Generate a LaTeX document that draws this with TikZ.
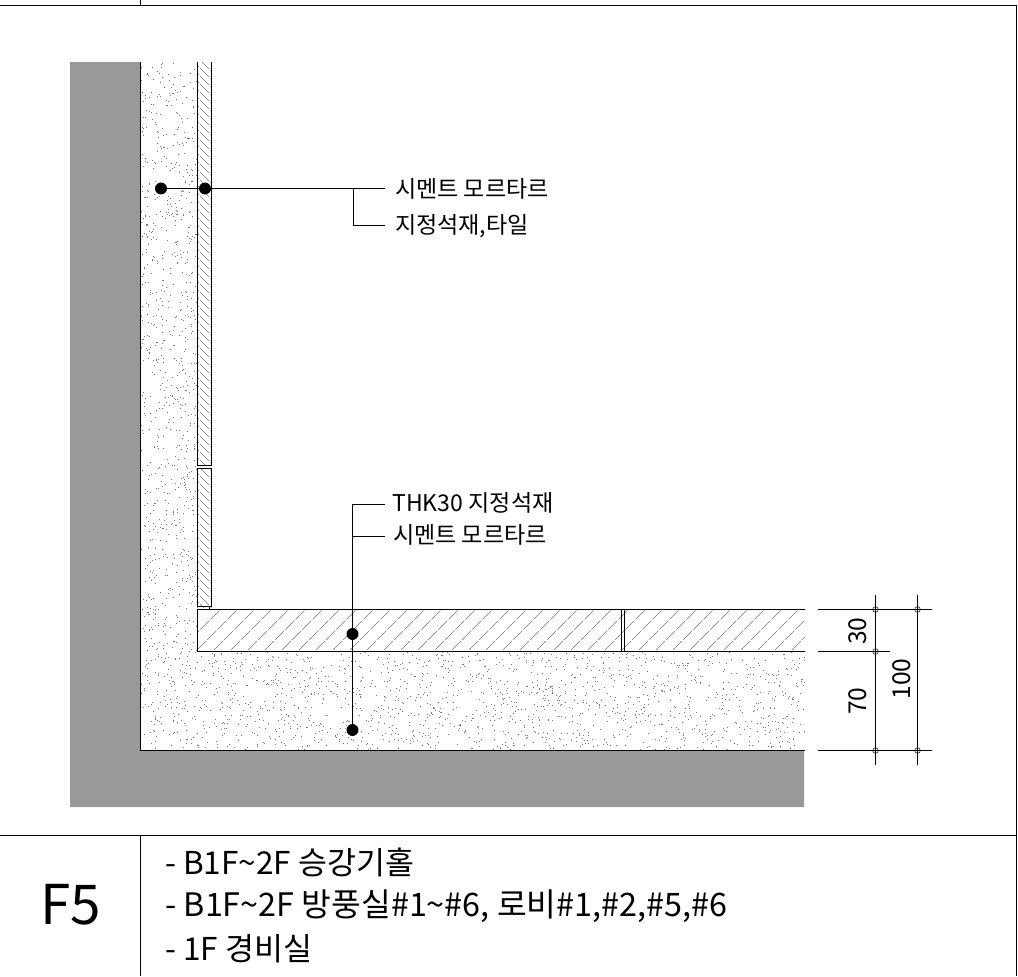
\documentclass[tikz,border=0pt]{standalone}
\usepackage{fontspec}
\setmainfont{Noto Sans CJK KR}
\usetikzlibrary{positioning}
\definecolor{slabgray}{HTML}{999999}
\definecolor{grainink}{HTML}{787878}
\tikzset{
  frameline/.style={black, line width=0.7pt},
  outline/.style={black, line width=0.65pt},
  leader/.style={black, line width=0.7pt},
  dimline/.style={black, line width=0.6pt},
  hatchline/.style={grainink, line width=0.45pt, dash pattern=on 9pt off 1.2pt},
  leaderdot/.style={circle, fill=black, inner sep=0pt, minimum size=8.5pt},
  dimtick/.style={circle, draw=black, line width=0.35pt, inner sep=0pt, minimum size=4pt},
  leaderlabel/.style={font=\fontsize{16.4pt}{19pt}\selectfont, inner ysep=0pt, inner xsep=7pt, anchor=west},
  dimlabel/.style={font=\fontsize{17.5pt}{20pt}\selectfont, rotate=90, inner sep=0pt},
  notelabel/.style={font=\fontsize{22.4pt}{27pt}\selectfont, inner sep=0pt, anchor=west},
}
\begin{document}
\begin{tikzpicture}[x=0.025cm,y=-0.025cm]
  \useasboundingbox (0,0) rectangle (1018,976);
  % sheet frame
  \draw[frameline] (0,5) -- (1016,5) -- (1016,976);
  \draw[frameline] (140.5,0) -- (140.5,5);
  \draw[frameline] (0,835) -- (1016,835);
  \draw[frameline] (140.5,835) -- (140.5,976);
  % structure
  \fill[slabgray] (70,62) -- (140,62) -- (140,750) -- (804,750) -- (804,807) -- (70,807) -- cycle;
  % mortar grain
  \pgfmathsetseed{4711}
  \foreach \i in {1,...,1000}
    \fill[grainink] ({141+56*rnd},{62+688*rnd}) rectangle ++(1,1);
  \foreach \i in {1,...,1550}
    \fill[grainink] ({197+608*rnd},{652+98*rnd}) rectangle ++(1,1);
  % wall stone
  \begin{scope}
    \clip (197.5,62) rectangle (211.5,607);
    \foreach \y in {50,58,...,620}
      \draw[hatchline] (190,\y) -- ++(30,30);
  \end{scope}
  \fill[white] (197,465.5) rectangle (212,468);
  \draw[outline] (197.5,62) -- (197.5,465) -- (211.5,465) -- (211.5,62);
  \draw[outline] (197.5,468.5) rectangle (211.5,606.5);
  \draw[outline] (209,606.5) -- (209,609.5);
  % floor stone
  \begin{scope}
    \clip (197.5,609.5) rectangle (805,651.5);
    \foreach \x in {170,187,...,820}
      \draw[hatchline] (\x,660) -- ++(60,-60);
  \end{scope}
  \draw[outline] (805,609.5) -- (197.5,609.5) -- (197.5,651.5) -- (805,651.5);
  \draw[outline] (621.5,609.5) -- (621.5,651.5);
  \draw[outline] (624,609.5) -- (624,651.5);
  \draw[outline] (140.5,62) -- (140.5,750.5) -- (805,750.5);
  % wall leader
  \node[leaderdot] (dotmortar) at (161,188.5) {};
  \node[leaderdot] (dotwall) at (205,188.5) {};
  \node[leaderlabel] (labelmortar) at (385,189) {시멘트 모르타르};
  \node[leaderlabel] (labeltile) at (385,226) {지정석재,타일};
  \coordinate (bendwall) at (353,188.5);
  \coordinate (cornerwall) at (353,225);
  \coordinate (tipmortar) at (385,188.5);
  \coordinate (tiptile) at (385,225);
  \draw[leader] (dotmortar) -- (dotwall);
  \draw[leader] (dotwall) -- (bendwall) -- (tipmortar);
  \draw[leader] (bendwall) -- (cornerwall) -- (tiptile);
  % floor leader
  \node[leaderdot] (dotfloor) at (352.5,634) {};
  \node[leaderdot] (dotbed) at (352.5,730) {};
  \node[leaderlabel,inner xsep=5pt] (labelstone) at (385,503) {THK30 지정석재};
  \node[leaderlabel,inner xsep=5.5pt] (labelbed) at (385,535) {시멘트 모르타르};
  \coordinate (cornerfloor) at (352.5,504);
  \coordinate (bendfloor) at (352.5,536);
  \coordinate (tipstone) at (385,504);
  \coordinate (tipbed) at (385,536);
  \draw[leader] (dotbed) -- (dotfloor) -- (cornerfloor) -- (tipstone);
  \draw[leader] (bendfloor) -- (tipbed);
  % dimensions
  \draw[dimline] (818,609.5) -- (932,609.5);
  \draw[dimline] (818,651.5) -- (890,651.5);
  \draw[dimline] (818,750.5) -- (932,750.5);
  \draw[dimline] (875.5,595) -- (875.5,765);
  \draw[dimline] (917.5,595) -- (917.5,765);
  \foreach \x/\y in {875.5/609.5,917.5/609.5,875.5/651.5,875.5/750.5,917.5/750.5}
    \node[dimtick] at (\x,\y) {};
  \node[dimlabel] at (858,631) {30};
  \node[dimlabel] at (858,701) {70};
  \node[dimlabel] at (902,679) {100};
  % notes
  \node[font=\fontsize{39pt}{44pt}\selectfont, inner sep=0pt] (tag) at (70.5,905) {F5};
  \node[notelabel] (notea) at (165,862) {- B1F\textasciitilde2F 승강기홀};
  \node[notelabel,font=\fontsize{23pt}{27pt}\selectfont] (noteb) at (165,906) {- B1F\textasciitilde2F 방풍실\#1\textasciitilde\#6, 로비\#1,\#2,\#5,\#6};
  \node[notelabel] (notec) at (165,949) {- 1F 경비실};
\end{tikzpicture}
\end{document}
